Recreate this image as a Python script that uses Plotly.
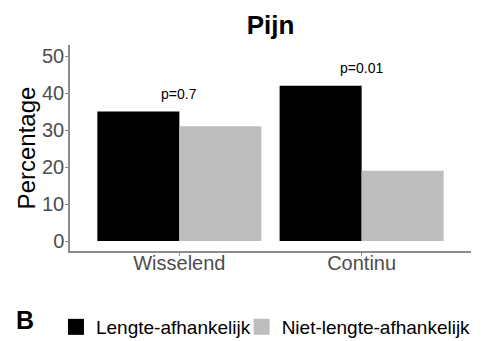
import plotly.graph_objects as go

categories = ["Wisselend", "Continu"]
series_names = ["Lengte-afhankelijk", "Niet-lengte-afhankelijk"]
series_colors = ["#000000", "#BEBEBE"]
lengte_values = [35, 42]
niet_lengte_values = [31, 19]
p_labels = ["p=0.7", "p=0.01"]
y_ticks = [0, 10, 20, 30, 40, 50]

FONT = "Liberation Sans, Arial, sans-serif"

fig = go.Figure()
for i, (name, vals, col) in enumerate(zip(series_names, [lengte_values, niet_lengte_values], series_colors)):
    fig.add_trace(go.Bar(x=categories, y=vals, name=name, legendgroup=name, showlegend=False,
                         marker=dict(color=col, line=dict(width=0))))
    # legend-only entry with a larger square swatch
    fig.add_trace(go.Scatter(x=[None], y=[None], mode="markers", name=name, legendgroup=name,
                             legend="legend" if i == 0 else "legend2",
                             marker=dict(symbol="square", size=16, color=col, line=dict(width=0))))

for cat, a, b, lab in zip(categories, lengte_values, niet_lengte_values, p_labels):
    fig.add_annotation(x=cat, y=max(a, b), text=lab, showarrow=False,
                       xref="x", yref="y", yanchor="bottom", yshift=8,
                       font=dict(family=FONT, size=14, color="#000000"))

fig.add_annotation(text="<b>B</b>", xref="paper", yref="paper", x=-0.112, y=-0.335,
                   xanchor="center", yanchor="middle", showarrow=False,
                   font=dict(family=FONT, size=25, color="#000000"))

legend_common = dict(orientation="h", yanchor="middle", y=-0.369, xanchor="left",
                     font=dict(family=FONT, size=19, color="#000000"),
                     bgcolor="rgba(0,0,0,0)", itemsizing="trace")

fig.update_layout(
    width=483, height=341,
    margin=dict(l=70, r=12, t=45, b=90, autoexpand=False),
    paper_bgcolor="white", plot_bgcolor="white",
    barmode="group", bargap=0.1, bargroupgap=0,
    title=dict(text="<b>Pijn</b>", x=0.5, xref="paper", xanchor="center",
               y=1 - 25 / 341, yref="container", yanchor="middle",
               font=dict(family=FONT, size=26, color="#000000")),
    font=dict(family=FONT),
    showlegend=True,
    legend=dict(x=-0.035, **legend_common),
    legend2=dict(x=0.428, **legend_common),
)

fig.update_xaxes(range=[-0.6, 1.6], showline=True, linecolor="#8C8C8C", linewidth=1.5,
                 ticks="outside", ticklen=3, tickcolor="#8C8C8C", showgrid=False,
                 automargin=False, ticklabelstandoff=-10,
                 tickfont=dict(family=FONT, size=20, color="#4D4D4D"), zeroline=False)
fig.update_yaxes(range=[-2.7, 53], tickvals=y_ticks, showline=True, linecolor="#8C8C8C",
                 linewidth=1.5, ticks="outside", ticklen=3, tickcolor="#8C8C8C",
                 showgrid=False, zeroline=False, automargin=False, ticklabelstandoff=-3,
                 tickfont=dict(family=FONT, size=20, color="#4D4D4D"),
                 title=dict(text="Percentage", standoff=0,
                            font=dict(family=FONT, size=24, color="#000000")))

fig.write_html("out.html", config={"displayModeBar": False},
               post_script="document.body.style.margin='0';document.body.style.overflow='hidden';")
